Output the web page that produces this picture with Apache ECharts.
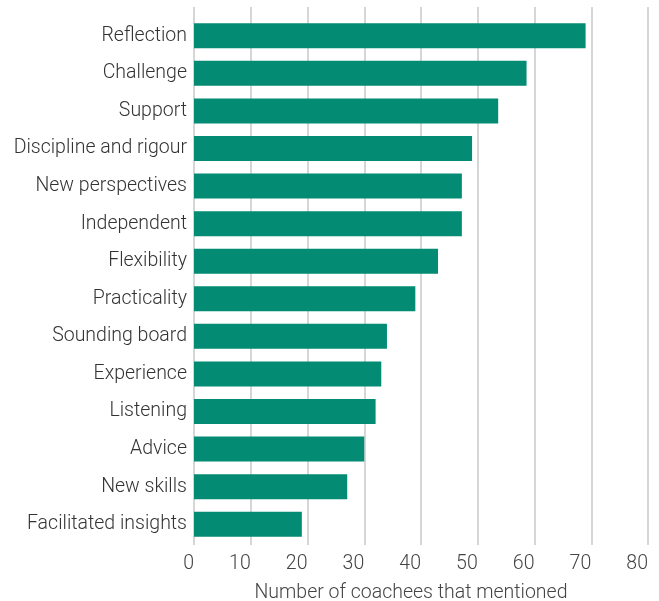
<!DOCTYPE html>
<html>
<head>
<meta charset="utf-8">
<script src="https://cdn.jsdelivr.net/npm/echarts@6/dist/echarts.min.js"></script>
<style>
  html, body { margin: 0; padding: 0; background: #fff; }
  #main { width: 659px; height: 601px; }
</style>
</head>
<body>
<div id="main"></div>
<script>
var categories = ['Reflection', 'Challenge', 'Support', 'Discipline and rigour', 'New perspectives',
    'Independent', 'Flexibility', 'Practicality', 'Sounding board', 'Experience',
    'Listening', 'Advice', 'New skills', 'Facilitated insights'];
var mentions = [69, 58.6, 53.6, 49, 47.2, 47.2, 43, 39, 34, 33, 32, 30, 27, 19];
var xTicks = [0, 10, 20, 30, 40, 50, 60, 70, 80];

var font = 'Roboto';
var myChart = echarts.init(document.getElementById('main'));
var option = {
    backgroundColor: '#fff',
    animation: false,
    grid: [
        // gridlines area (lines run a bit above the first bar)
        { left: 194, right: 11, top: 7, bottom: 56, outerBoundsMode: 'none', containLabel: false },
        // bars
        { left: 194, right: 11, top: 17, bottom: 58, outerBoundsMode: 'none', containLabel: false }
    ],
    xAxis: [
        {
            gridIndex: 0,
            type: 'value',
            min: xTicks[0],
            max: xTicks[xTicks.length - 1],
            interval: 10,
            axisLine: { show: false },
            axisTick: { show: false },
            splitLine: { lineStyle: { color: '#c9c9c9', width: 1.5 } },
            axisLabel: {
                align: 'right',
                margin: 9,
                fontFamily: font,
                fontWeight: 300,
                fontSize: 19.5,
                color: '#444'
            },
            name: 'Number of coachees that mentioned',
            nameLocation: 'middle',
            nameGap: 38,
            nameTextStyle: {
                fontFamily: font, fontWeight: 300, fontSize: 19.5, color: '#444',
                padding: [0, 20, 0, 0]
            }
        },
        {
            gridIndex: 1,
            type: 'value',
            min: xTicks[0],
            max: xTicks[xTicks.length - 1],
            show: false
        }
    ],
    yAxis: [
        { gridIndex: 0, type: 'value', show: false },
        {
            gridIndex: 1,
            type: 'category',
            inverse: true,
            data: categories,
            axisLine: { show: false },
            axisTick: { show: false },
            axisLabel: {
                margin: 7,
                fontFamily: font,
                fontWeight: 300,
                fontSize: 19.5,
                color: '#333'
            }
        }
    ],
    series: [
        {
            name: 'Mentions',
            type: 'bar',
            xAxisIndex: 1,
            yAxisIndex: 1,
            barWidth: 25,
            itemStyle: { color: '#038b73' },
            data: mentions
        }
    ]
};
myChart.setOption(option);
window.onresize = myChart.resize;
</script>
</body>
</html>
